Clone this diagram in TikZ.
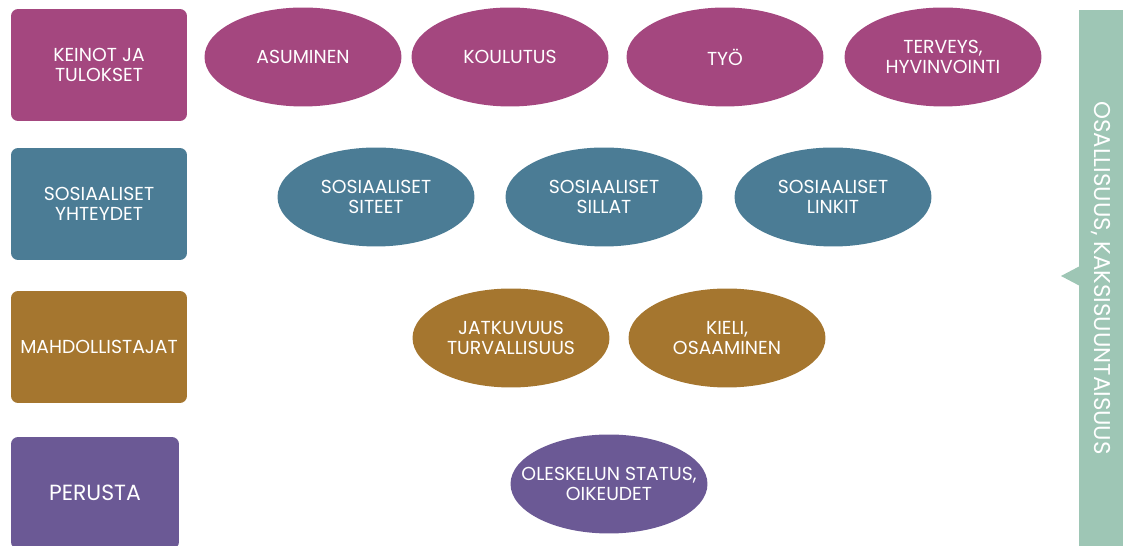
\documentclass[tikz,border=0pt]{standalone}
\usepackage{fontspec}
\setmainfont{Poppins}
\usetikzlibrary{shapes.geometric}
\definecolor{keinocol}{HTML}{A4477F}
\definecolor{yhteyscol}{HTML}{4B7C95}
\definecolor{mahdolcol}{HTML}{A5762F}
\definecolor{perustacol}{HTML}{6B5995}
\definecolor{osallcol}{HTML}{9EC6B5}
\tikzstyle{rowbox} = [rectangle, rounded corners=4pt, minimum width=3.52cm, minimum height=2.24cm, inner sep=0pt, align=center, text=white, font=\fontsize{10.7}{11.6}\selectfont]
\tikzstyle{oval} = [ellipse, minimum width=3.94cm, minimum height=1.98cm, inner xsep=-1cm, inner ysep=-0.5cm, align=center, text=white, font=\fontsize{10.7}{11.6}\selectfont]

\begin{document}
\begin{tikzpicture}[x=0.02cm,y=-0.02cm]
	\useasboundingbox (0,0) rectangle (1123,546);
	% rivit vasemmalla
	\node [rowbox,fill=keinocol] (keinot) at (99,65) {KEINOT JA\\TULOKSET};
	\node [rowbox,fill=yhteyscol] (yhteydet) at (99,204) {SOSIAALISET\\YHTEYDET};
	\node [rowbox,fill=mahdolcol] (mahdol) at (99,347) {MAHDOLLISTAJAT};
	\node [rowbox,fill=perustacol,minimum width=3.36cm,font=\fontsize{12.5}{14}\selectfont] (perusta) at (95,493) {PERUSTA};
	% keinot ja tulokset
	\node [oval,fill=keinocol] (asuminen) at (303,57) {ASUMINEN};
	\node [oval,fill=keinocol] (koulutus) at (510,57) {KOULUTUS};
	\node [oval,fill=keinocol] (tyo) at (725,57) {TYÖ};
	\node [oval,fill=keinocol] (terveys) at (943,57) {TERVEYS,\\HYVINVOINTI};
	% sosiaaliset yhteydet
	\node [oval,fill=yhteyscol] (siteet) at (376,197) {SOSIAALISET\\SITEET};
	\node [oval,fill=yhteyscol] (sillat) at (604,197) {SOSIAALISET\\SILLAT};
	\node [oval,fill=yhteyscol] (linkit) at (833,197) {SOSIAALISET\\LINKIT};
	% mahdollistajat
	\node [oval,fill=mahdolcol] (jatkuvuus) at (511,338) {JATKUVUUS\\TURVALLISUUS};
	\node [oval,fill=mahdolcol] (kieli) at (727,338) {KIELI,\\OSAAMINEN};
	% perusta
	\node [oval,fill=perustacol] (status) at (609,484) {OLESKELUN STATUS,\\OIKEUDET};
	% osallisuus
	\fill [osallcol] (1079,10) rectangle (1130,560);
	\fill [osallcol] (1080,266) -- (1061,276) -- (1080,286) -- cycle;
	\node [rotate=-90,text=white,font=\fontsize{13}{15}\selectfont] (osallisuus) at (1101,278) {OSALLISUUS, KAKSISUUNTAISUUS};
\end{tikzpicture}
\end{document}
